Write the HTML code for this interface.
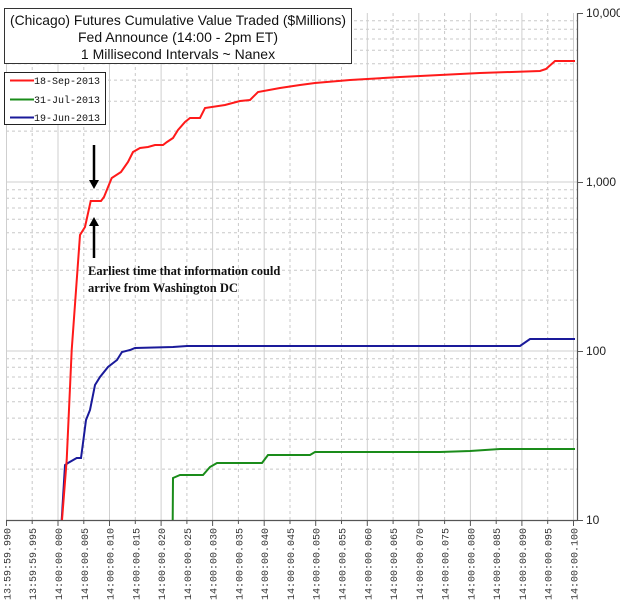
<!DOCTYPE html>
<html><head><meta charset="utf-8"><style>html,body{margin:0;padding:0;background:#fff}svg{display:block}</style></head>
<body>
<svg width="620" height="603" xmlns="http://www.w3.org/2000/svg" font-family="Liberation Sans, sans-serif">
<rect width="620" height="603" fill="#fff"/>
<g id="grid">
<g stroke="#c8c8c8" stroke-width="1" stroke-dasharray="3,3">
<path d="M6 469.1H577M6 439.2H577M6 418.1H577M6 401.7H577M6 388.3H577M6 377.0H577M6 367.2H577M6 358.7H577
M6 300.1H577M6 270.2H577M6 249.1H577M6 232.7H577M6 219.3H577M6 208.0H577M6 198.2H577M6 189.7H577
M6 131.1H577M6 101.2H577M6 80.1H577M6 63.7H577M6 50.3H577M6 39.0H577M6 29.2H577M6 20.7H577"/>
<path d="M32.2 13V520M83.8 13V520M135.3 13V520M186.9 13V520M238.4 13V520M290 13V520M341.5 13V520M393.1 13V520M444.6 13V520M496.2 13V520M547.7 13V520"/>
</g>
<g stroke="#cfcfcf" stroke-width="1">
<path d="M6 351H577M6 182H577"/>
<path d="M6.5 13V520M58 13V520M109.5 13V520M161.1 13V520M212.6 13V520M264.2 13V520M315.7 13V520M367.3 13V520M418.8 13V520M470.4 13V520M521.9 13V520M573.5 13V520"/>
</g>
</g>
<path d="M6 520.5H577.5M577.5 13V520" stroke="#555" stroke-width="1.2" fill="none"/>
<g stroke="#555"><path d="M577 13.5H583M577 182.5H583M577 351.5H583M577 520.5H583"/>
<path d="M6.5 520V526M32.2 520V524M58 520V526M83.8 520V524M109.5 520V526M135.3 520V524M161.1 520V526M186.9 520V524M212.6 520V526M238.4 520V524M264.2 520V526M290 520V524M315.7 520V526M341.5 520V524M367.3 520V526M393.1 520V524M418.8 520V526M444.6 520V524M470.4 520V526M496.2 520V524M521.9 520V526M547.7 520V524M573.5 520V526"/></g>
<g font-size="12" fill="#222">
<text x="586" y="17">10,000</text><text x="586" y="186">1,000</text><text x="586" y="355">100</text><text x="586" y="524">10</text>
</g>
<g font-family="Liberation Mono, monospace" font-size="10" fill="#333" text-anchor="end">
<text transform="translate(10.5,528) rotate(-90)">13:59:59.990</text>
<text transform="translate(36.2,528) rotate(-90)">13:59:59.995</text>
<text transform="translate(62,528) rotate(-90)">14:00:00.000</text>
<text transform="translate(87.8,528) rotate(-90)">14:00:00.005</text>
<text transform="translate(113.5,528) rotate(-90)">14:00:00.010</text>
<text transform="translate(139.3,528) rotate(-90)">14:00:00.015</text>
<text transform="translate(165.1,528) rotate(-90)">14:00:00.020</text>
<text transform="translate(190.9,528) rotate(-90)">14:00:00.025</text>
<text transform="translate(216.6,528) rotate(-90)">14:00:00.030</text>
<text transform="translate(242.4,528) rotate(-90)">14:00:00.035</text>
<text transform="translate(268.2,528) rotate(-90)">14:00:00.040</text>
<text transform="translate(294,528) rotate(-90)">14:00:00.045</text>
<text transform="translate(319.7,528) rotate(-90)">14:00:00.050</text>
<text transform="translate(345.5,528) rotate(-90)">14:00:00.055</text>
<text transform="translate(371.3,528) rotate(-90)">14:00:00.060</text>
<text transform="translate(397.1,528) rotate(-90)">14:00:00.065</text>
<text transform="translate(422.8,528) rotate(-90)">14:00:00.070</text>
<text transform="translate(448.6,528) rotate(-90)">14:00:00.075</text>
<text transform="translate(474.4,528) rotate(-90)">14:00:00.080</text>
<text transform="translate(500.2,528) rotate(-90)">14:00:00.085</text>
<text transform="translate(525.9,528) rotate(-90)">14:00:00.090</text>
<text transform="translate(551.7,528) rotate(-90)">14:00:00.095</text>
<text transform="translate(577.5,528) rotate(-90)">14:00:00.100</text>
</g>
<polyline fill="none" stroke="#1a1a9a" stroke-width="2" points="61.7,520 65,465 68,463 76.7,458 81,458 83,443 86,420 90,410 95,385 100,377 108,367 117,360 122,352 130,350 135,348 173,347 187,346 260,346 520,346 530,339 575,339"/>
<polyline fill="none" stroke="#1a8c1a" stroke-width="2" points="172.7,520 173,478 180,475 203,475 210,467 217,463 262,463 268,455 310,455 315,452 440,452 470,451 500,449 575,449"/>
<polyline fill="none" stroke="#ff1a1a" stroke-width="2" points="62,520 66.7,460 71.7,350 80,235 85,227 90.7,201 101,201 104,197 111.7,178 121,172 128,162 133,152 140,148 148,147 155,145 163,145 167,142 173,138 178,130 185,122 190,118 200,118 205,108 225,105 240,101 250,100 258,92 280,88 300,85 315,83 350,80 400,77 440,75 480,73 540,71 546,69 555,61 575,61"/>
<g stroke="#000" stroke-width="2.5" fill="#000">
<path d="M94 145V182" fill="none"/><path d="M89 180L94 189L99 180Z" stroke-width="0"/>
<path d="M94 258V224" fill="none"/><path d="M89 226L94 217L99 226Z" stroke-width="0"/>
</g>
<g font-family="Liberation Serif, serif" font-weight="bold" font-size="12.5" fill="#111">
<text x="88" y="275">Earliest time that information could</text>
<text x="88" y="292">arrive from Washington DC</text>
</g>
<rect x="4.5" y="8.5" width="347" height="55" fill="#fff" stroke="#333" stroke-width="1"/>
<g font-size="14" text-anchor="middle" fill="#111" font-family="Liberation Sans, sans-serif">
<text x="178" y="25" textLength="336" lengthAdjust="spacingAndGlyphs">(Chicago) Futures Cumulative Value Traded ($Millions)</text>
<text x="178" y="42">Fed Announce (14:00 - 2pm ET)</text>
<text x="178" y="59">1 Millisecond Intervals ~ Nanex</text>
</g>
<rect x="4.5" y="72.5" width="101" height="52" fill="#fff" stroke="#222" stroke-width="1"/>
<path d="M10 80.5H34" stroke="#ff1a1a" stroke-width="2"/>
<path d="M10 99.5H34" stroke="#1a8c1a" stroke-width="2"/>
<path d="M10 117.5H34" stroke="#1a1a9a" stroke-width="2"/>
<g font-family="Liberation Mono, monospace" font-size="10" fill="#111">
<text x="34" y="84">18-Sep-2013</text>
<text x="34" y="103">31-Jul-2013</text>
<text x="34" y="121">19-Jun-2013</text>
</g>
</svg>
</body></html>
